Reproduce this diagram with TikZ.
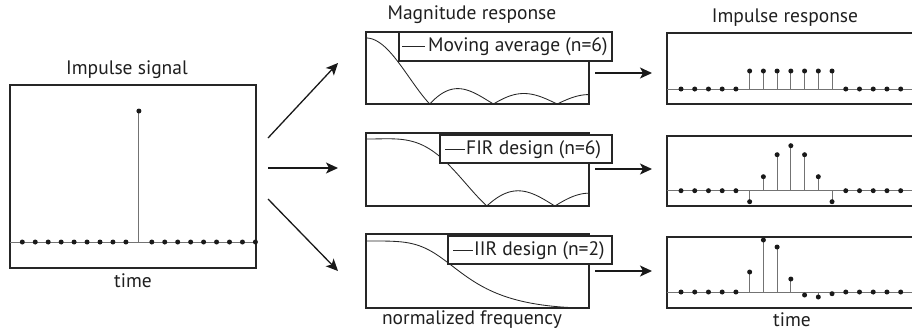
\documentclass[tikz,border=0pt]{standalone}
\usepackage{fontspec}
\setmainfont{PT Sans}
\usetikzlibrary{arrows.meta}
\begin{document}
\begin{tikzpicture}[x=1pt,y=-1pt,
  frame/.style={draw=black!85, line width=1.3pt, inner sep=0pt, outer sep=0pt},
  legbox/.style={draw=black!85, line width=1.2pt, fill=white, inner sep=0pt, outer sep=0pt},
  stem/.style={draw=black!55, line width=1pt},
  base/.style={draw=black!55, line width=1pt},
  dot/.style={circle, fill=black!90, inner sep=0pt, minimum size=5pt},
  curve/.style={draw=black!85, line width=0.85pt},
  arr/.style={draw=black!90, line width=1.3pt, -{Stealth[length=12pt,width=11pt,inset=3pt]}},
  lbl/.style={font=\fontsize{19.5}{23}\selectfont, inner sep=0pt, text=black!88},
  declare function={
    ma(\u)=abs(sin(630*\u)/(7*sin(90*\u)));
    fir(\u)=abs(1+1.6*cos(180*\u)+0.62*cos(360*\u)-0.5*cos(540*\u))/2.72;
    iir(\u)=0.389*cos(90*\u)^2/sqrt(0.1513*cos(90*\u)^4+sin(90*\u)^4);
  }
]
\clip (0,0) rectangle (912,333);
\fill[white] (0,0) rectangle (912,333);

% ---------- left: impulse signal ----------
\node[frame, minimum width=246pt, minimum height=183pt, anchor=north west] (L) at (10,85) {};
\draw[base] (L.west |- 0,242) -- (L.east |- 0,242);
\draw[stem] (138.9,242) -- (138.9,111);
\foreach \k in {0,...,18}{
  \ifnum\k=9
    \node[dot] at (138.9,111) {};
  \else
    \node[dot] at ({22.3+12.95*\k},242) {};
  \fi
}
\node[lbl] (tL) at (127,70) {Impulse signal};
\node[lbl] (xL) at (133,281) {time};

% ---------- middle: magnitude responses ----------
\node[frame, minimum width=223pt, minimum height=72pt, anchor=north west] (M1) at (366,32) {};
\node[frame, minimum width=223pt, minimum height=73pt, anchor=north west] (M2) at (366,133) {};
\node[frame, minimum width=223pt, minimum height=74pt, anchor=north west] (M3) at (366,234) {};

\draw[curve] plot[domain=0.001:1, samples=220, smooth] ({366+223*\x},{104-66*ma(\x)});
\draw[curve] plot[domain=0:1, samples=160, smooth] ({366+223*\x},{206-67*fir(\x)});
\draw[curve] plot[domain=0:1, samples=160, smooth] ({366+223*\x},{308-67*iir(\x)});

\node[legbox, minimum width=213pt, minimum height=29pt, anchor=north west] (G1) at (399,32) {};
\draw[curve] ([xshift=3pt]G1.west) -- ++(23,0);
\node[lbl, anchor=west] at (428,47) {Moving average (n=6)};

\node[legbox, minimum width=172pt, minimum height=28pt, anchor=north west] (G2) at (440,135) {};
\draw[curve] ([xshift=5pt]G2.west) -- ++(20,0);
\node[lbl, anchor=west] at (466,149.5) {FIR design (n=6)};

\node[legbox, minimum width=164pt, minimum height=28pt, anchor=north west] (G3) at (448,236) {};
\draw[curve] ([xshift=5pt]G3.west) -- ++(20,0);
\node[lbl, anchor=west] at (474,250.5) {IIR design (n=2)};

\node[lbl] (tM) at (472,15) {Magnitude response};
\node[lbl] (xM) at (472,320) {normalized frequency};

% ---------- right: impulse responses ----------
\node[frame, minimum width=263pt, minimum height=71pt, anchor=north west] (R1) at (667,33) {};
\node[frame, minimum width=263pt, minimum height=70pt, anchor=north west] (R2) at (667,136) {};
\node[frame, minimum width=263pt, minimum height=71pt, anchor=north west] (R3) at (667,237) {};

\foreach \b/\vals in {89/{0,0,0,0,0,18,18,18,18,18,18,18,0,0,0,0,0},
                      190.7/{0,0,0,0,0,-11,14,36,45,36,14,-11,0,0,0,0,0},
                      292/{0,0,0,0,0,20,52,45,13,-3,-5,-1.7,0,0,0,0,0}}{
  \draw[base] (667,\b) -- (930,\b);
  \foreach \v [count=\i from 0] in \vals {
    \draw[stem] ({681+13.73*\i},\b) -- ({681+13.73*\i},{\b-\v});
    \node[dot] at ({681+13.73*\i},{\b-\v}) {};
  }
}

\node[lbl] (tR) at (785,18) {Impulse response};
\node[lbl] (xR) at (792,320) {time};

% ---------- arrows ----------
\coordinate (s1) at (268,138); \coordinate (e1) at (338,63);
\coordinate (s2) at (268,168); \coordinate (e2) at (338,168);
\coordinate (s3) at (268,199); \coordinate (e3) at (338,271);
\draw[arr] (s1) -- (e1);
\draw[arr] (s2) -- (e2);
\draw[arr] (s3) -- (e3);

\coordinate (r1s) at (595,73);  \coordinate (r1e) at (652,73);
\coordinate (r2s) at (595,169); \coordinate (r2e) at (652,169);
\coordinate (r3s) at (595,271); \coordinate (r3e) at (652,271);
\draw[arr] (r1s) -- (r1e);
\draw[arr] (r2s) -- (r2e);
\draw[arr] (r3s) -- (r3e);
\end{tikzpicture}
\end{document}
